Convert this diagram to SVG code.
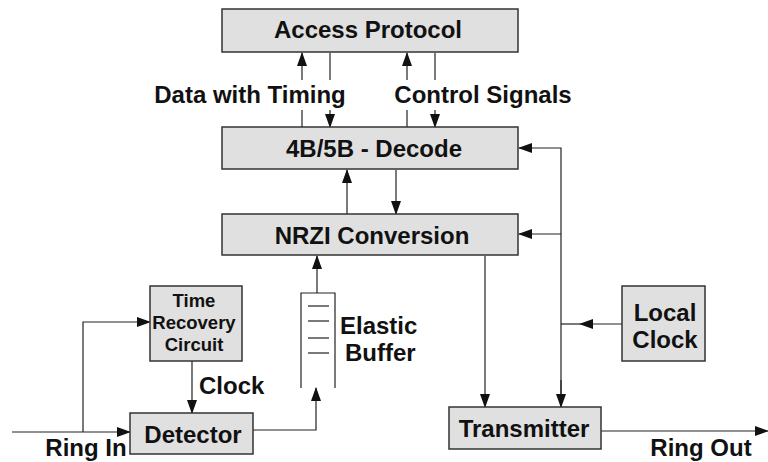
<svg xmlns="http://www.w3.org/2000/svg" width="768" height="462" viewBox="0 0 768 462">
<style>
.box{fill:#e0e0e0;stroke:#333;stroke-width:1.5}
.t{font-family:"Liberation Sans",Arial,sans-serif;font-weight:bold;fill:#111;font-size:24px}
.s{font-size:18.5px}
.c{text-anchor:middle}
.ln{stroke:#222;stroke-width:1.2;fill:none}
</style>
<defs>
<marker id="a" markerWidth="14" markerHeight="10" refX="13" refY="5" orient="auto" markerUnits="userSpaceOnUse">
<path d="M0,0 L14,5 L0,10 Z" fill="#111"/>
</marker>
</defs>
<rect width="768" height="462" fill="#fff"/>
<g id="connectors">
<line class="ln" x1="302" y1="80" x2="302" y2="53" marker-end="url(#a)"/>
<line class="ln" x1="302" y1="110" x2="302" y2="127"/>
<line class="ln" x1="330" y1="53" x2="330" y2="80"/>
<line class="ln" x1="330" y1="110" x2="330" y2="127" marker-end="url(#a)"/>
<line class="ln" x1="407" y1="80" x2="407" y2="53" marker-end="url(#a)"/>
<line class="ln" x1="407" y1="110" x2="407" y2="127"/>
<line class="ln" x1="435" y1="53" x2="435" y2="80"/>
<line class="ln" x1="435" y1="110" x2="435" y2="127" marker-end="url(#a)"/>
<line class="ln" x1="347" y1="214" x2="347" y2="170" marker-end="url(#a)"/>
<line class="ln" x1="396" y1="170" x2="396" y2="214" marker-end="url(#a)"/>
<polyline class="ln" points="561,407 561,148 519,148" marker-end="url(#a)"/>
<line class="ln" x1="561" y1="234" x2="519" y2="234" marker-end="url(#a)"/>
<line class="ln" x1="622" y1="324" x2="580" y2="324" marker-end="url(#a)"/>
<line class="ln" x1="580" y1="324" x2="561" y2="324"/>
<line class="ln" x1="561" y1="380" x2="561" y2="407" marker-end="url(#a)"/>
<line class="ln" x1="485" y1="256" x2="485" y2="407" marker-end="url(#a)"/>
<line class="ln" x1="601" y1="431" x2="768" y2="431" marker-end="url(#a)"/>
<line class="ln" x1="12" y1="432" x2="130" y2="432" marker-end="url(#a)"/>
<polyline class="ln" points="83,432 83,322 150,322" marker-end="url(#a)"/>
<line class="ln" x1="192" y1="361" x2="192" y2="413" marker-end="url(#a)"/>
<polyline class="ln" points="253,430 316,430 316,388" marker-end="url(#a)"/>
<line class="ln" x1="317" y1="293" x2="317" y2="256" marker-end="url(#a)"/>
</g>
<g id="access">
<rect class="box" x="222" y="9" width="296" height="43"/>
<text class="t c" x="368" y="38">Access Protocol</text>
</g>
<g id="labels">
<text class="t c" x="250" y="103">Data with Timing</text>
<text class="t c" x="483" y="103">Control Signals</text>
</g>
<g id="decode">
<rect class="box" x="222" y="127" width="296" height="42"/>
<text class="t c" x="374" y="157">4B/5B - Decode</text>
</g>
<g id="nrzi">
<rect class="box" x="222" y="214" width="296" height="41"/>
<text class="t c" x="372" y="244">NRZI Conversion</text>
</g>
<g id="trc">
<rect class="box" x="150" y="286" width="92" height="75"/>
<text class="t s c" x="194" y="307">Time</text>
<text class="t s c" x="194" y="329">Recovery</text>
<text class="t s c" x="194" y="351">Circuit</text>
</g>
<g id="clocklabel">
<text class="t" x="199" y="394">Clock</text>
</g>
<g id="detector">
<rect class="box" x="130" y="413" width="123" height="41"/>
<text class="t c" x="193" y="443">Detector</text>
</g>
<g id="ringin">
<text class="t c" x="86" y="456">Ring In</text>
</g>
<g id="buffer">
<polyline class="ln" points="301,388 301,293 335,293 335,388"/>
<line class="ln" x1="308" y1="306" x2="329" y2="306"/>
<line class="ln" x1="308" y1="321" x2="329" y2="321"/>
<line class="ln" x1="308" y1="338" x2="329" y2="338"/>
<line class="ln" x1="308" y1="353" x2="329" y2="353"/>
<text class="t" x="340" y="334">Elastic</text>
<text class="t" x="345" y="361">Buffer</text>
</g>
<g id="localclock">
<rect class="box" x="622" y="286" width="83" height="75"/>
<text class="t c" x="665" y="321">Local</text>
<text class="t c" x="665" y="348">Clock</text>
</g>
<g id="transmitter">
<rect class="box" x="449" y="407" width="152" height="42"/>
<text class="t c" x="524" y="437">Transmitter</text>
</g>
<g id="ringout">
<text class="t c" x="701" y="456">Ring Out</text>
</g>
</svg>
